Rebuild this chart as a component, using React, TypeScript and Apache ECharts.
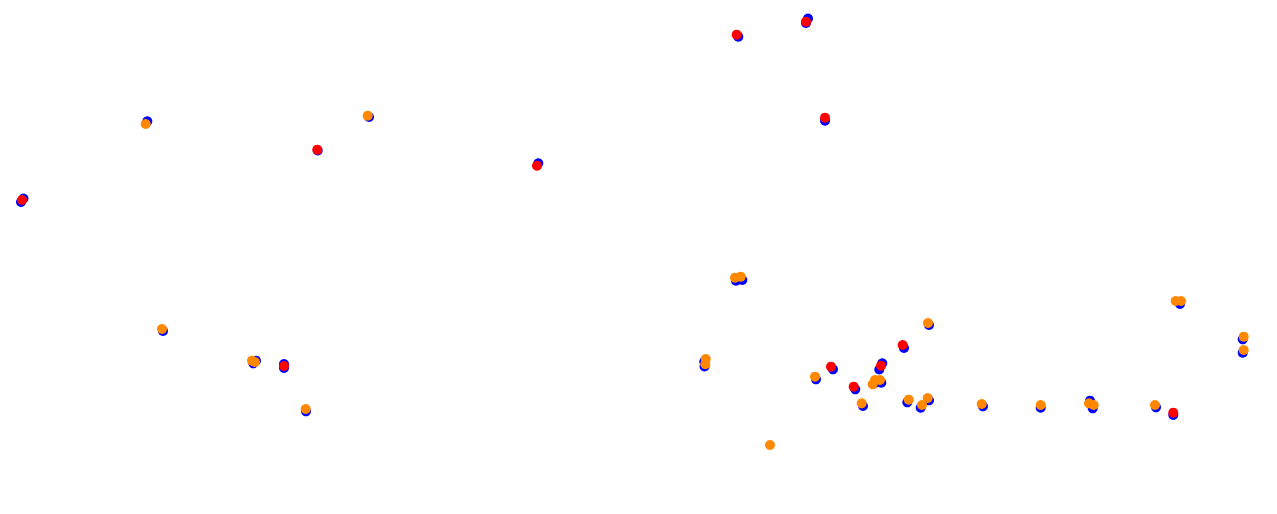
import React, { useEffect, useRef } from "react";
import * as echarts from "echarts";

const blueBase: number[][] = [
  [21, 202], [23.5, 198.5], [317.7, 150.5], [538.3, 163.3], [738.3, 36.7],
  [808, 18.5], [806, 23], [825, 120.7], [284, 364], [284, 368],
  [833, 369.3], [855.3, 389.3], [882.3, 363.3], [879.3, 369.5], [904, 348],
  [1173.3, 415],
  [147.3, 121.3], [369, 117], [163, 331], [253.3, 363.3], [256, 360.7],
  [306, 411.3], [704.3, 361.7], [704.5, 366.5], [736, 280.7], [742.3, 280],
  [816, 379.3], [863, 406], [881.3, 382.7], [875, 383], [907.3, 402.3],
  [920.7, 407.7], [929, 400.3], [929, 325], [983, 406.3], [1040.7, 407.7],
  [1090, 400.7], [1092.7, 408.3], [1156, 407.3], [1180, 304],
  [1242.7, 339.3], [1242.7, 352.7],
];

const redPoints: number[][] = [
  [22, 200], [317.3, 149.7], [537, 165.7], [736.7, 34.7], [806, 21.7],
  [825, 117.7], [284, 366], [831, 366.7], [853.7, 386.7], [881, 365.7],
  [902.7, 345], [1173.3, 412.7],
];

const orangePoints: number[][] = [
  [145.7, 124], [367.7, 115.7], [162, 329], [252, 360.7], [255, 362],
  [305.7, 409], [705.7, 359], [705.3, 364.2], [735, 277.7], [740.7, 276.7],
  [770, 445], [815, 376.7], [861.7, 403.3], [875, 380], [880, 380],
  [872.7, 384.3], [908.7, 399.7], [922, 405], [927.7, 398], [928, 323],
  [981.7, 404], [1040.7, 405], [1089, 403.3], [1093.7, 405], [1155, 405],
  [1175.7, 301], [1181, 301], [1243.7, 336.7], [1243.7, 350],
];

const xRange = [0, 1277];
const yRange = [0, 514];

export default function App() {
  const ref = useRef<HTMLDivElement>(null);
  useEffect(() => {
    if (!ref.current) return;
    const chart = echarts.init(ref.current, null, { renderer: "svg" });
    chart.setOption({
      animation: false,
      backgroundColor: "#ffffff",
      grid: { left: 0, right: 0, top: 0, bottom: 0 },
      xAxis: { type: "value", min: xRange[0], max: xRange[1], show: false },
      yAxis: { type: "value", min: yRange[0], max: yRange[1], inverse: true, show: false },
      series: [
        { type: "scatter", data: blueBase, symbolSize: 10, itemStyle: { color: "#0000ff", opacity: 1 } },
        { type: "scatter", data: redPoints, symbolSize: 10, itemStyle: { color: "#ff0000", opacity: 1 } },
        { type: "scatter", data: orangePoints, symbolSize: 10, itemStyle: { color: "#ff8800", opacity: 1 } },
      ],
    });
    return () => chart.dispose();
  }, []);
  return (
    <div
      ref={ref}
      style={{ position: "fixed", left: 0, top: 0, width: 1277, height: 514 }}
    />
  );
}
